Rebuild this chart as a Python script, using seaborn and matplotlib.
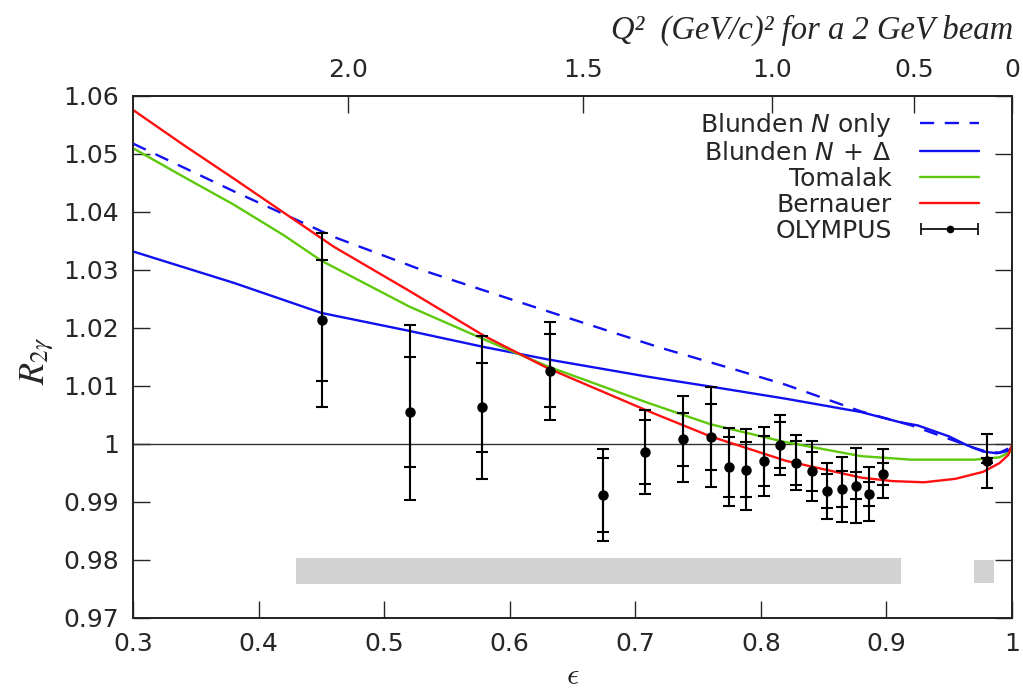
import numpy as np
import pandas as pd
import matplotlib
matplotlib.use('Agg')
import matplotlib.pyplot as plt
import seaborn as sns
from matplotlib.legend_handler import HandlerErrorbar
from matplotlib.container import ErrorbarContainer

# model curves
eps_nonly = [0.30, 0.38, 0.46, 0.53, 0.62, 0.72, 0.78, 0.82, 0.88, 0.92, 0.96, 0.97, 0.98, 0.99, 1.00]
r_nonly = [1.0518, 1.0436, 1.0357, 1.0300, 1.0236, 1.0166, 1.0128, 1.0102, 1.0056, 1.0032,
           1.0001, 0.9993, 0.9987, 0.9985, 0.9995]

eps_ndelta = [0.30, 0.38, 0.45, 0.52, 0.58, 0.63, 0.71, 0.76, 0.82, 0.88, 0.91, 0.925, 0.95,
              0.964, 0.977, 0.988, 0.997, 1.00]
r_ndelta = [1.0332, 1.0278, 1.0226, 1.0195, 1.0167, 1.0146, 1.0116, 1.0099, 1.0078, 1.0055,
            1.0038, 1.0032, 1.0013, 0.9998, 0.9987, 0.9984, 0.9988, 0.9995]

eps_tomalak = [0.30, 0.34, 0.38, 0.42, 0.45, 0.52, 0.58, 0.63, 0.71, 0.76, 0.82, 0.88, 0.92,
               0.97, 0.99, 1.00]
r_tomalak = [1.0510, 1.0461, 1.0413, 1.0360, 1.0316, 1.0237, 1.0180, 1.0134, 1.0071, 1.0034,
             1.0003, 0.9979, 0.9973, 0.9973, 0.9977, 0.9988]

eps_bernauer = [0.30, 0.34, 0.38, 0.42, 0.46, 0.52, 0.58, 0.63, 0.71, 0.76, 0.82, 0.88, 0.905,
                0.93, 0.955, 0.977, 0.99, 0.997, 1.00]
r_bernauer = [1.0576, 1.0516, 1.0458, 1.0399, 1.0340, 1.0264, 1.0186, 1.0131, 1.0057, 1.0013,
              0.9971, 0.9942, 0.9936, 0.9934, 0.9940, 0.9952, 0.9967, 0.9981, 0.9998]

# OLYMPUS points
eps_data = [0.4505, 0.5208, 0.5777, 0.6321, 0.6745, 0.7075, 0.7378, 0.7603, 0.7744, 0.7884,
            0.8023, 0.8155, 0.8280, 0.8405, 0.8529, 0.8644, 0.8758, 0.8864, 0.8973, 0.9798]
r_data = [1.0213, 1.0055, 1.0063, 1.0126, 0.9912, 0.9986, 1.0008, 1.0012, 0.9960, 0.9956,
          0.9970, 0.9998, 0.9968, 0.9953, 0.9919, 0.9922, 0.9928, 0.9914, 0.9949, 0.9971]
stat_err = [0.0104, 0.0095, 0.0077, 0.0063, 0.0063, 0.0055, 0.0046, 0.0057, 0.0052, 0.0048,
            0.0043, 0.0040, 0.0038, 0.0034, 0.0029, 0.0031, 0.0023, 0.0021, 0.0019, 0.0004]
tot_err = [0.0150, 0.0151, 0.0124, 0.0084, 0.0080, 0.0072, 0.0074, 0.0086, 0.0067, 0.0069,
           0.0059, 0.0052, 0.0048, 0.0052, 0.0048, 0.0056, 0.0065, 0.0047, 0.0042, 0.0047]

# normalisation bands (grey boxes)
band_eps = [[0.4295, 0.9116], [0.9698, 0.9857]]
band_lo = [0.97581, 0.97609]
band_hi = [0.98029, 0.98000]

# top axis: Q^2 for a 2 GeV beam
q2_ticks = [2.0, 1.5, 1.0, 0.5, 0.0]
q2_labels = ['2.0', '1.5', '1.0', '0.5', '0']
beam_energy = 2.01
m_proton = 0.938272


def eps_from_q2(q2):
    q2 = np.asarray(q2, dtype=float)
    e_out = beam_energy - q2 / (2 * m_proton)
    s2 = q2 / (4 * beam_energy * e_out)
    tan2 = s2 / (1 - s2)
    tau = q2 / (4 * m_proton ** 2)
    return 1.0 / (1.0 + 2 * (1 + tau) * tan2)


sns.set_style('ticks')
plt.rcParams['font.family'] = ['DejaVu Sans']
plt.rcParams['mathtext.fontset'] = 'dejavusans'

fig = plt.figure(figsize=(10.23, 6.89), dpi=100)
ax = fig.add_axes([133 / 1023, 1 - 618 / 689, 879 / 1023, 522 / 689])

for (e0, e1), lo, hi in zip(band_eps, band_lo, band_hi):
    ax.fill_between([e0, e1], [lo, lo], [hi, hi], color='#d2d2d2', lw=0, zorder=1)

ax.axhline(1.0, color='#333333', lw=1.0, zorder=2)

sns.lineplot(x=eps_nonly, y=r_nonly, ax=ax, color='#1010f0', lw=1.7, zorder=3)
ax.lines[-1].set_dashes((6, 4.5))
h_nonly = ax.lines[-1]
sns.lineplot(x=eps_ndelta, y=r_ndelta, ax=ax, color='#1010f0', lw=1.7, zorder=3)
h_ndelta = ax.lines[-1]
sns.lineplot(x=eps_tomalak, y=r_tomalak, ax=ax, color='#5ec80a', lw=1.7, zorder=3)
h_tomalak = ax.lines[-1]
sns.lineplot(x=eps_bernauer, y=r_bernauer, ax=ax, color='#ff1010', lw=1.7, zorder=3)
h_bernauer = ax.lines[-1]

ax.errorbar(eps_data, r_data, yerr=tot_err, fmt='none', ecolor='black', elinewidth=1.5,
            capsize=4, capthick=1.5, zorder=4)
ax.errorbar(eps_data, r_data, yerr=stat_err, fmt='o', color='black', ms=6.5, elinewidth=1.5,
            capsize=4, capthick=1.5, zorder=5)

# proxy for the legend (horizontal bar like the original)
proxy = ax.errorbar([np.nan], [np.nan], xerr=[0.1], fmt='o', color='black', ms=4.5,
                    elinewidth=1.2, capsize=4, capthick=1.2)

ax.set_xlim(0.3, 1.0)
ax.set_ylim(0.97, 1.06)
ax.set_xticks(np.round(np.arange(0.3, 1.001, 0.1), 2))
ax.set_xticklabels(['0.3', '0.4', '0.5', '0.6', '0.7', '0.8', '0.9', '1'])
yt = np.round(np.arange(0.97, 1.0601, 0.01), 2)
ax.set_yticks(yt)
ax.set_yticklabels(['%g' % v for v in yt])
ax.tick_params(axis='both', direction='in', labelsize=18, length=12, width=1.0, pad=10,
               top=False, right=True)
for sp in ax.spines.values():
    sp.set_linewidth(1.2)
    sp.set_color('black')

top = ax.twiny()
top.set_xlim(0.3, 1.0)
top.set_xticks(eps_from_q2(q2_ticks))
top.set_xticklabels(q2_labels)
top.tick_params(axis='x', direction='in', labelsize=18, length=12, width=1.0, pad=10)
for sp in top.spines.values():
    sp.set_linewidth(1.2)

fig.text(1013 / 1023, 1 - 30 / 689, 'Q²  (GeV/c)² for a 2 GeV beam', ha='right', va='center',
         fontsize=23.5, family='Liberation Serif', style='italic')
fig.text(37 / 1023, 1 - 361 / 689, r'$R_{2\gamma}$', rotation=90, ha='center', va='center',
         fontsize=26, math_fontfamily='stix')
fig.text(573 / 1023, 1 - 676 / 689, r'$\epsilon$', ha='center', va='center', fontsize=22,
         math_fontfamily='cm')

leg = ax.legend([h_nonly, h_ndelta, h_tomalak, h_bernauer, proxy],
                ['Blunden $N$ only', r'Blunden $N\,+\,\Delta$', 'Tomalak', 'Bernauer', 'OLYMPUS'],
                loc='upper right', bbox_to_anchor=(0.9625, 0.972), frameon=False,
                markerfirst=False, fontsize=18, handlelength=2.35, handletextpad=1.15,
                labelspacing=0.08, borderpad=0, borderaxespad=0, numpoints=1,
                handler_map={ErrorbarContainer: HandlerErrorbar(xerr_size=1.15)})

fig.savefig('out.png', dpi=100)
